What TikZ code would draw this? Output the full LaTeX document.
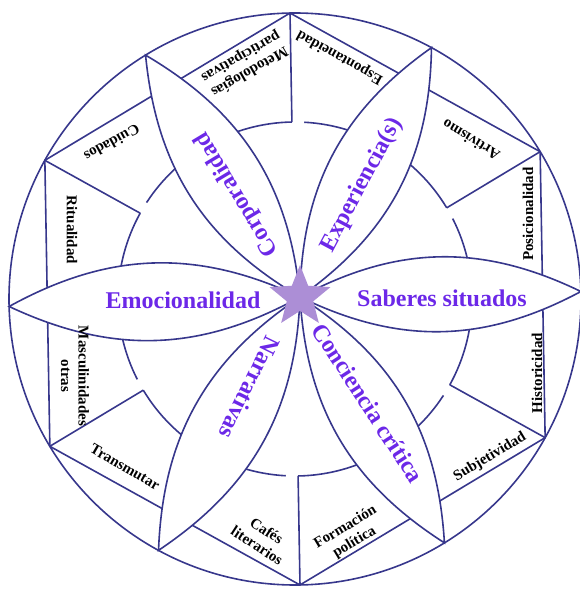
\documentclass[tikz,border=0pt]{standalone}
\usepackage{fontspec}
\setmainfont{Liberation Serif}
\usetikzlibrary{shapes.geometric}

\definecolor{rimblue}{RGB}{55,55,140}
\definecolor{petalpurple}{RGB}{108,40,232}
\definecolor{starlilac}{RGB}{172,142,214}

\tikzset{
  rim/.style={draw=rimblue, line width=1.6pt},
  petal/.style={draw=rimblue, fill=white, line width=1.6pt},
  petaltext/.style={text=petalpurple, font=\fontsize{24}{26}\selectfont\bfseries, inner sep=0pt},
  celltext/.style={font=\fontsize{15}{17.5}\selectfont\bfseries, align=center, inner sep=0pt}
}

\begin{document}
\begin{tikzpicture}[x=1pt, y=1pt]
  \newcommand{\Rout}{286} % outer circle
  \newcommand{\Rmid}{177} % middle ring

  \useasboundingbox (-295,-292) rectangle (285,299);

  % Outer circle and hexagon
  \draw[rim] (0,0) circle (\Rout);
  \draw[rim] (31:\Rout) -- (91:\Rout) -- (151:\Rout) -- (211:\Rout) -- (271:\Rout) -- (331:\Rout) -- cycle;

  % Radial lines and middle ring
  \foreach \a in {31,91,...,331} {
    \draw[rim] (\a:\Rmid) -- (\a:\Rout);
    \draw[rim] (\a:\Rmid) arc (\a:\a+56:\Rmid);
  }

  % Petals
  \coordinate (hub) at (5,2);
  \foreach \a in {1.5,61.5,121.5,181.5,241.5,301.5} {
    \filldraw[petal] (hub) to[bend left=27] (\a:\Rout) to[bend left=27] (hub) -- cycle;
  }

  % Petal labels
  \node[petaltext, rotate=121] (corp) at (-58,105) {Corporalidad};
  \node[petaltext, rotate=62] (expe) at (67,114) {Experiencia(s)};
  \node[petaltext] (sabe) at (147,1) {Saberes situados};
  \node[petaltext] (emoc) at (-112,-1) {Emocionalidad};
  \node[petaltext, rotate=244] (narr) at (-45,-89) {Narrativas};
  \node[petaltext, rotate=-57] (conc) at (73,-104) {Conciencia crítica};

  % Cell labels
  \node[celltext, rotate=210] (metod) at (-50,235) {Metodologías\\participativas};
  \node[celltext, rotate=151] (espon) at (45,242) {Espontaneidad};
  \node[celltext, rotate=149] (artiv) at (176,159) {Artivismo};
  \node[celltext, rotate=90] (posic) at (233,85) {Posicionalidad};
  \node[celltext, rotate=90] (histo) at (242,-74) {Historicidad};
  \node[celltext, rotate=31] (subje) at (195,-158) {Subjetividad};
  \node[celltext, rotate=31] (forma) at (55,-236) {Formación\\política};
  \node[celltext, rotate=-33] (cafes) at (-33,-239) {Cafés\\literarios};
  \node[celltext, rotate=-30] (trans) at (-170,-168) {Transmutar};
  \node[celltext, rotate=-90] (mascu) at (-220,-77) {Masculinidades\\otras};
  \node[celltext, rotate=-90] (ritua) at (-223,69) {Ritualidad};
  \node[celltext, rotate=209] (cuida) at (-183,156) {Cuidados};

  % Star
  \node[star, star points=5, star point ratio=2.3, minimum size=64pt, inner sep=0pt, fill=starlilac] (centre) at (hub) {};
\end{tikzpicture}
\end{document}
